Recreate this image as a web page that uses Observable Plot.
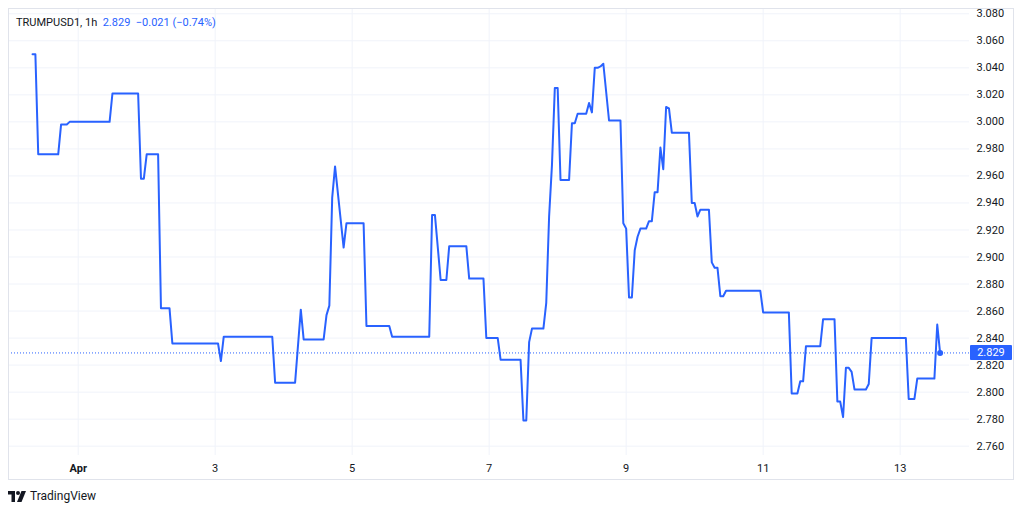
<!DOCTYPE html>
<html>
<head>
<meta charset="utf-8">
<script src="https://cdn.jsdelivr.net/npm/d3@7"></script>
<script src="https://cdn.jsdelivr.net/npm/@observablehq/plot@0.6"></script>
<style>
  html, body { margin: 0; padding: 0; background: #ffffff; }
  #wrap { position: relative; width: 1024px; height: 512px; overflow: hidden; font-family: Roboto, "Liberation Sans", sans-serif; }
  #frame { position: absolute; left: 8px; top: 8px; width: 1006px; height: 472px; border: 1px solid #e0e3eb; box-sizing: border-box; pointer-events: none; }
  #title { position: absolute; left: 16px; top: 16px; font-size: 11px; color: #131722; white-space: pre; }
  #title .v { color: #2962ff; }
  #pricebox { position: absolute; left: 970px; width: 42px; height: 15px; background: #2962ff; color: #fff; font-size: 11px; line-height: 15px; text-align: center; border-radius: 1px; }
  #logo { position: absolute; left: 8px; top: 489px; font-size: 12px; color: #131722; display: flex; align-items: center; gap: 4px; }
  #chart svg { position: absolute; left: 0; top: 0; }
</style>
</head>
<body>
<div id="wrap">
  <div id="chart"></div>
  <div id="frame"></div>
  <div id="title"></div>
  <div id="pricebox"></div>
  <div id="logo"></div>
</div>
<script>
// ---- data (hours since Apr 1 00:00 UTC, hourly candles' close) ----
const symbol = "TRUMPUSD1, 1h";
const lastPrice = 2.829;
const change = "\u22120.021 (\u22120.74%)";
const hours = [
  -16,-15,-14,-7,-6,-4,-3,11,12,21,
  22,23,24,28,29,32,33,49,50,51,
  68,69,76,78,79,86,87,88,89,90,
  93,94,100,101,109,110,123,124,125,127,
  129,130,136,137,142,143,147,148,155,156,
  157,158,159,163,164,165,166,167,168,169,
  172,173,174,175,178,179,180,181,182,183,
  184,186,190,191,192,193,194,195,196,197,
  199,200,201,202,203,204,205,206,207,208,
  214,215,216,217,218,221,222,223,224,225,
  226,227,239,240,249,250,252,253,254,255,
  260,261,265,266,267,268,269,270,271,272,
  276,277,278,290,291,293,294,300,301,302
];
const prices = [
  3.050,3.050,2.976,2.976,2.998,2.998,3.000,3.000,3.021,3.021,
  2.958,2.958,2.976,2.976,2.862,2.862,2.836,2.836,2.823,2.841,
  2.841,2.807,2.807,2.861,2.839,2.839,2.857,2.864,2.944,2.967,
  2.907,2.925,2.925,2.849,2.849,2.841,2.841,2.931,2.931,2.883,
  2.883,2.908,2.908,2.884,2.884,2.840,2.840,2.824,2.824,2.779,
  2.779,2.837,2.847,2.847,2.866,2.930,2.968,3.025,3.025,2.957,
  2.957,2.999,2.999,3.006,3.006,3.014,3.007,3.040,3.040,3.041,
  3.043,3.001,3.001,2.925,2.921,2.870,2.870,2.905,2.915,2.921,
  2.921,2.9265,2.9265,2.948,2.948,2.981,2.965,3.011,3.010,2.992,
  2.992,2.940,2.940,2.930,2.935,2.935,2.896,2.892,2.892,2.871,
  2.871,2.875,2.875,2.859,2.859,2.799,2.799,2.808,2.808,2.834,
  2.834,2.854,2.854,2.793,2.793,2.7815,2.818,2.818,2.815,2.802,
  2.802,2.806,2.840,2.840,2.795,2.795,2.810,2.810,2.850,2.829
];
const yTicks = [2.76,2.78,2.80,2.82,2.84,2.86,2.88,2.90,2.92,2.94,2.96,2.98,3.00,3.02,3.04,3.06,3.08];
const xTickDays = [1,3,5,7,9,11,13];
const xTickLabels = ["Apr","3","5","7","9","11","13"];

const BLUE = "#2962ff";
const GRID = "#f0f3fa";
const base = Date.UTC(2026, 3, 1);
const toDate = h => new Date(base + h * 3600e3);
const data = hours.map((h, i) => ({date: toDate(h), price: prices[i]}));
const xTicks = xTickDays.map(d => new Date(Date.UTC(2026, 3, d)));
const labelOf = d => xTickLabels[xTickDays.indexOf(d.getUTCDate())];

const chart = Plot.plot({
  width: 1024,
  height: 490,
  marginLeft: 8,
  marginRight: 55,
  marginTop: 8,
  marginBottom: 35,
  style: {fontFamily: "Roboto, 'Liberation Sans', sans-serif", fontSize: "11px", color: "#131722", background: "transparent", overflow: "visible"},
  x: {type: "utc", domain: [toDate(-24.42), toDate(312.3)]},
  y: {domain: [2.7531, 3.0839]},
  marks: [
    Plot.gridY(yTicks, {stroke: GRID, strokeOpacity: 1}),
    Plot.gridX(xTicks, {stroke: GRID, strokeOpacity: 1}),
    Plot.ruleY([lastPrice], {stroke: BLUE, strokeDasharray: "1,2", strokeWidth: 1}),
    Plot.line(data, {x: "date", y: "price", stroke: BLUE, strokeWidth: 2, curve: "linear"}),
    Plot.dot([data[data.length - 1]], {x: "date", y: "price", r: 3, fill: BLUE}),
    Plot.axisY(yTicks, {anchor: "right", tickSize: 0, tickPadding: 7, tickFormat: d3.format(".3f"), label: null}),
    Plot.axisX(xTicks.slice(1), {anchor: "bottom", tickSize: 0, tickPadding: 9, tickFormat: labelOf, label: null}),
    Plot.axisX(xTicks.slice(0, 1), {anchor: "bottom", tickSize: 0, tickPadding: 9, tickFormat: labelOf, fontWeight: "bold", label: null})
  ]
});
document.getElementById("chart").appendChild(chart);

document.getElementById("title").innerHTML =
  symbol + "  <span class='v'>" + lastPrice.toFixed(3) + "  " + change + "</span>";

const py = chart.scale("y").apply(lastPrice);
const box = document.getElementById("pricebox");
box.style.top = (py - 7.5) + "px";
box.textContent = lastPrice.toFixed(3);

document.getElementById("logo").innerHTML =
  "<svg width='18' height='11' viewBox='0 0 36 22'><path d='M0 0h14v22H7V7H0z' fill='#131722'/><circle cx='20' cy='4' r='4' fill='#131722'/><path d='M27 0h9l-9 22h-9z' fill='#131722'/></svg><span>TradingView</span>";
</script>
</body>
</html>
